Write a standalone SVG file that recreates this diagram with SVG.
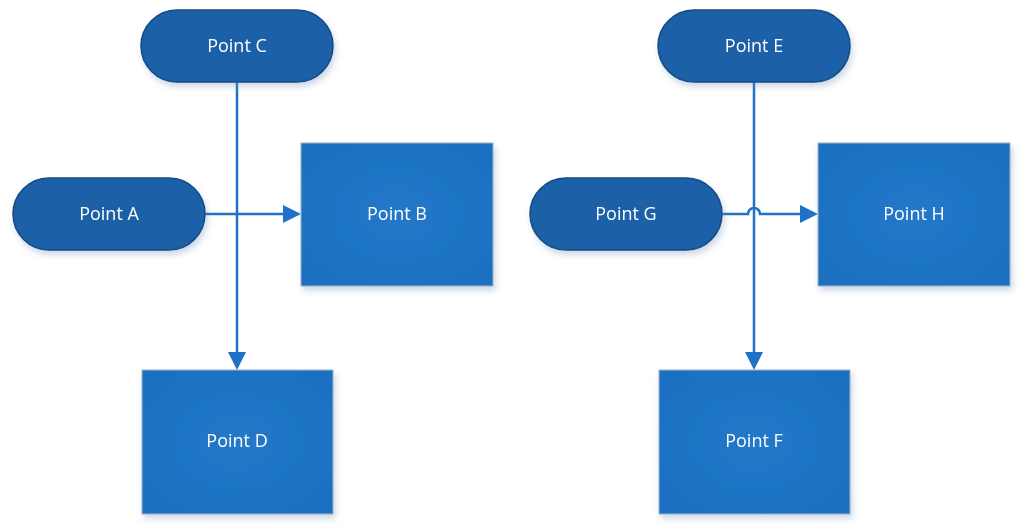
<svg xmlns="http://www.w3.org/2000/svg" width="1031" height="530" viewBox="0 0 1031 530">
  <style>
    .term { fill: #1a60a8; stroke: #124a85; stroke-width: 1.5; }
    .box { fill: url(#boxg); stroke: #9fb3c8; stroke-width: 1; }
    .lbl { font-family: "Open Sans", "Noto Sans", sans-serif; font-size: 18px; fill: #ffffff; text-anchor: middle; dominant-baseline: central; }
    .conn { fill: none; stroke: #1f72c8; stroke-width: 2.5; }
  </style>
  <defs>
    <radialGradient id="boxg" cx="0.5" cy="0.5" r="0.7">
      <stop offset="0" stop-color="#2278c9"/>
      <stop offset="1" stop-color="#1b6fc0"/>
    </radialGradient>
    <filter id="sh" x="-10%" y="-10%" width="125%" height="130%">
      <feDropShadow dx="2" dy="4" stdDeviation="3" flood-color="#6a8fb8" flood-opacity="0.35"/>
    </filter>
  </defs>
  <rect width="1031" height="530" fill="#ffffff"/>

  <g id="connectors">
    <path class="conn" d="M237,82 V352"/>
    <path d="M237,370 L228,352 L246,352 z" fill="#1f72c8"/>
    <path class="conn" d="M205,214 H283"/>
    <path d="M301,214 L283,205 L283,223 z" fill="#1f72c8"/>

    <path class="conn" d="M754,82 V352"/>
    <path d="M754,370 L745,352 L763,352 z" fill="#1f72c8"/>
    <path class="conn" d="M722,214 H748 A6,6 0 0 1 760,214 H800"/>
    <path d="M818,214 L800,205 L800,223 z" fill="#1f72c8"/>
  </g>

  <g id="pointC" filter="url(#sh)">
    <rect class="term" x="141" y="10" width="192" height="72" rx="36"/>
    <text class="lbl" x="237" y="45">Point C</text>
  </g>
  <g id="pointA" filter="url(#sh)">
    <rect class="term" x="13" y="178" width="192" height="72" rx="36"/>
    <text class="lbl" x="109" y="213">Point A</text>
  </g>
  <g id="pointB" filter="url(#sh)">
    <rect class="box" x="301" y="143" width="192" height="143"/>
    <text class="lbl" x="397" y="213">Point B</text>
  </g>
  <g id="pointD" filter="url(#sh)">
    <rect class="box" x="142" y="370" width="191" height="144"/>
    <text class="lbl" x="237" y="440">Point D</text>
  </g>

  <g id="pointE" filter="url(#sh)">
    <rect class="term" x="658" y="10" width="192" height="72" rx="36"/>
    <text class="lbl" x="754" y="45">Point E</text>
  </g>
  <g id="pointG" filter="url(#sh)">
    <rect class="term" x="530" y="178" width="192" height="72" rx="36"/>
    <text class="lbl" x="626" y="213">Point G</text>
  </g>
  <g id="pointH" filter="url(#sh)">
    <rect class="box" x="818" y="143" width="192" height="143"/>
    <text class="lbl" x="914" y="213">Point H</text>
  </g>
  <g id="pointF" filter="url(#sh)">
    <rect class="box" x="659" y="370" width="191" height="144"/>
    <text class="lbl" x="754" y="440">Point F</text>
  </g>
</svg>
